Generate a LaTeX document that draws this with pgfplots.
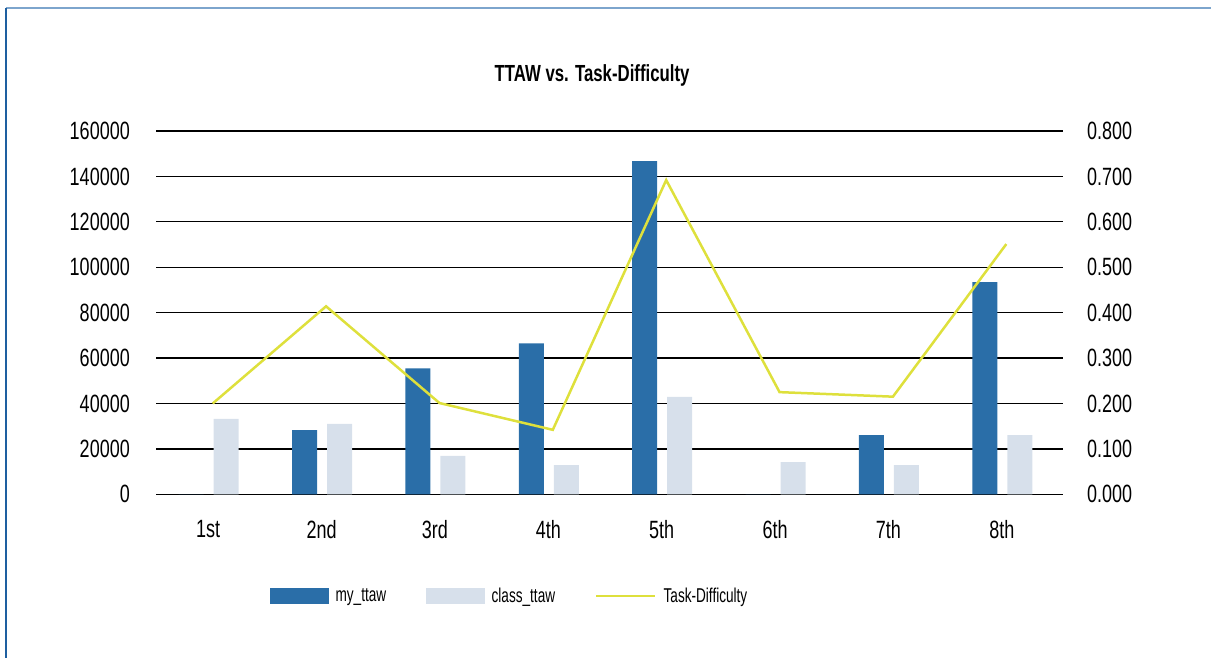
\documentclass[border=0pt]{standalone}
\usepackage{pgfplots}
\usepackage{pgfplotstable}
\pgfplotsset{compat=1.18}
\usepackage{fontspec}
\setmainfont{Liberation Sans}[FakeStretch=0.72]
\newfontfamily\legfont{Liberation Sans}[FakeStretch=0.68]
\definecolor{mybar}{RGB}{42,110,168}
\definecolor{classbar}{RGB}{215,224,235}
\definecolor{tdline}{RGB}{222,224,60}
\definecolor{frameL}{RGB}{30,95,160}
\definecolor{frameT}{RGB}{125,165,205}

\pgfplotstableread{
x my class td
0 0 33200 0.200
1 28300 31000 0.414
2 55500 16900 0.201
3 66500 12900 0.142
4 146700 42900 0.692
5 0 14200 0.225
6 26100 12900 0.215
7 93400 26100 0.551
}\data

\begin{document}
\begin{tikzpicture}[x=1pt,y=1pt]
\path[use as bounding box] (0,0) rectangle (1211,-657);
\draw[frameT, line width=2pt] (6,-8) -- (1215,-8);
\draw[frameL, line width=2pt] (6,-8) -- (6,-660);
\node[font=\bfseries\fontsize{23.3}{28}\selectfont] at (592,-75) {TTAW vs. Task-Difficulty};

\begin{axis}[
  at={(156pt,-494.3pt)}, anchor=south west,
  scale only axis, width=907pt, height=363.3pt,
  xmin=-0.5, xmax=7.5, ymin=0, ymax=160000,
  ytick={0,20000,40000,60000,80000,100000,120000,140000,160000},
  xtick={0,1,2,3,4,5,6,7},
  xticklabels={1st,2nd,3rd,4th,5th,6th,7th,8th},
  axis line style={draw=none},
  major tick length=0pt,
  ymajorgrids,
  grid style={black, line width=1.3pt},
  scaled y ticks=false,
  /pgf/number format/assume math mode=true,
  yticklabel style={/pgf/number format/fixed, /pgf/number format/1000 sep={}, anchor=east, inner sep=0pt, xshift=-26pt},
  xticklabel style={anchor=north, inner sep=0pt, yshift=-25.7pt, xshift=-4.5pt},
  tick label style={font=\fontsize{25}{30}\selectfont, text=black},
]
\addplot[ybar, fill=mybar, draw=none, bar width=25pt, bar shift=-21.5pt] table[x=x,y=my]{\data};
\addplot[ybar, fill=classbar, draw=none, bar width=25pt, bar shift=13.5pt] table[x=x,y=class]{\data};
\end{axis}

\begin{axis}[
  at={(156pt,-494.3pt)}, anchor=south west,
  scale only axis, width=907pt, height=363.3pt,
  xmin=-0.5, xmax=7.5, ymin=0, ymax=0.8,
  ytick={0,0.1,0.2,0.3,0.4,0.5,0.6,0.7,0.8},
  xtick=\empty,
  axis line style={draw=none},
  major tick length=0pt,
  yticklabel pos=right,
  /pgf/number format/assume math mode=true,
  yticklabel style={/pgf/number format/fixed, /pgf/number format/fixed zerofill, /pgf/number format/precision=3, anchor=west, inner sep=0pt, xshift=24pt},
  tick label style={font=\fontsize{25}{30}\selectfont, text=black},
  legend columns=3,
  legend style={draw=none, fill=none, inner sep=0pt, font=\legfont\fontsize{20}{24}\selectfont,
    at={(axis description cs:0.1257,-0.28)}, anchor=west,
    /tikz/every odd column/.append style={column sep=5pt},
    /tikz/every even column/.append style={column sep=38pt}},
  legend cell align=left,
]
\addlegendimage{legend image code/.code={\fill[mybar] (0pt,-7.5pt) rectangle (58pt,7.5pt);}}
\addlegendentry{my\_ttaw}
\addlegendimage{legend image code/.code={\fill[classbar] (0pt,-7.5pt) rectangle (58pt,7.5pt);}}
\addlegendentry{class\_ttaw}
\addplot[tdline, line width=2.5pt, legend image code/.code={\draw[tdline, line width=2.5pt] (0pt,0pt) -- (59pt,0pt);}] table[x=x,y=td]{\data};
\addlegendentry{Task-Difficulty}
\end{axis}
\end{tikzpicture}
\end{document}
